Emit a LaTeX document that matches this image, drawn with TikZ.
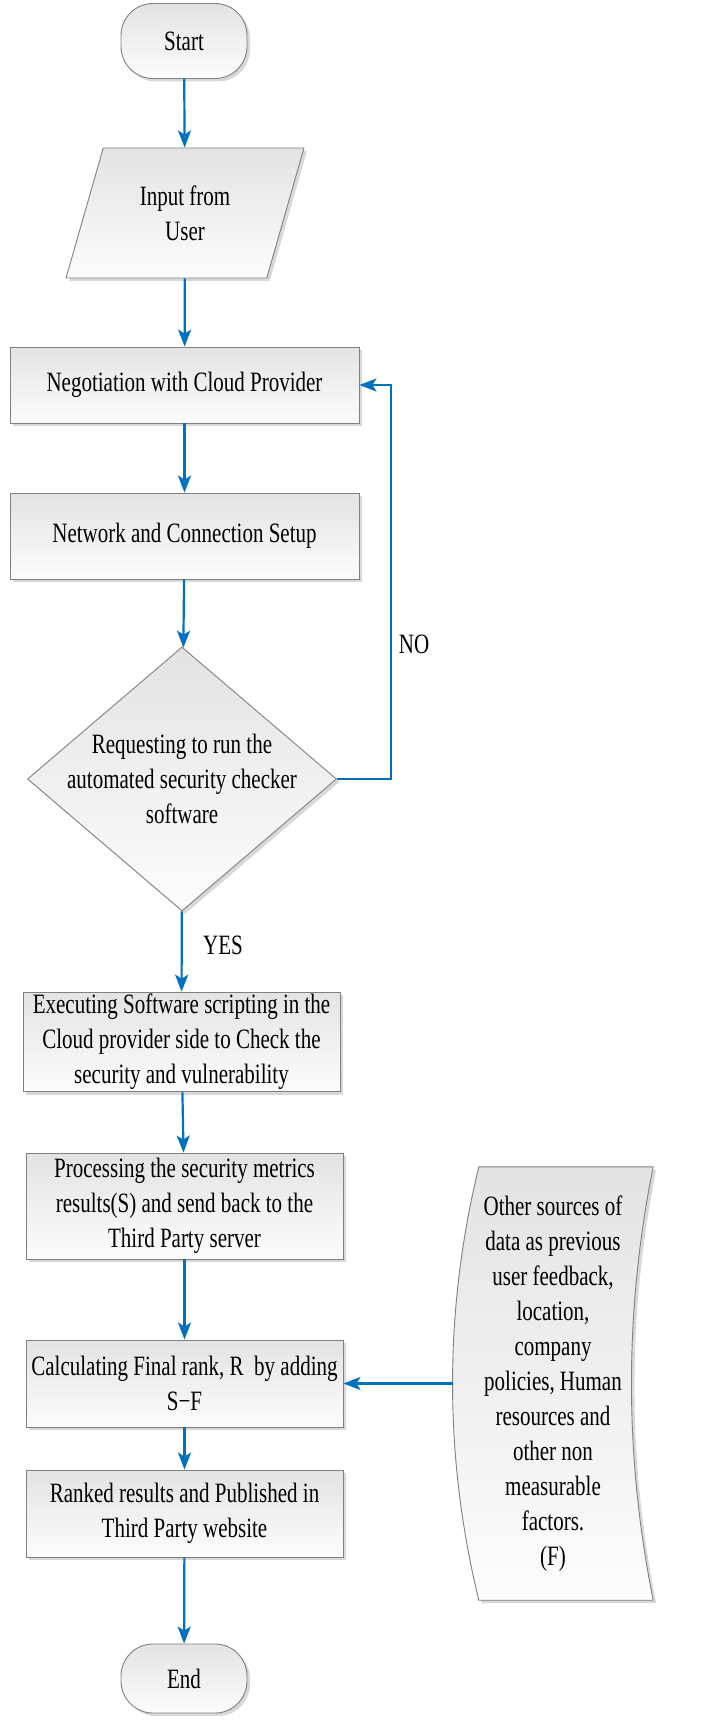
\documentclass[tikz,border=0pt]{standalone}
\usepackage{fontspec}
\setmainfont{Liberation Serif}[FakeStretch=0.75]
\usetikzlibrary{shapes.geometric,arrows.meta,shadows}
\definecolor{flowblue}{RGB}{0,112,192}
\definecolor{edgegray}{RGB}{128,128,128}
\tikzset{base/.style={draw=edgegray, line width=0.9pt, top color=black!11, bottom color=black!1, drop shadow={shadow xshift=3pt, shadow yshift=-3pt, fill=black!22, opacity=0.7}, font=\fontsize{28}{35}\selectfont, align=center, inner sep=2pt}}
\tikzset{term/.style={base, rectangle, rounded corners=32pt, minimum width=126pt}}
\tikzset{procbox/.style={base, rectangle, minimum width=317pt}}
\tikzset{io/.style={base, trapezium, trapezium left angle=70, trapezium right angle=110, trapezium stretches, minimum width=238pt, minimum height=130pt}}
\tikzset{dec/.style={base, diamond, minimum width=309pt, minimum height=264pt, inner sep=0pt}}
\tikzset{note/.style={font=\fontsize{28}{35}\selectfont, align=center}}
\tikzset{flow/.style={draw=flowblue, line width=2.2pt, -{Stealth[length=17pt, width=13pt, inset=4pt]}}}

\begin{document}
\begin{tikzpicture}[x=1pt, y=-1pt]
        \useasboundingbox (0,0) rectangle (704,1720);
        \node[term, minimum height=75pt] (start) at (184,41) {Start};
        \node[io] (input) at (185,213) {Input from\\User};
        \node[procbox, minimum width=349pt, minimum height=76pt] (nego) at (184.5,385) {Negotiation with Cloud Provider};
        \node[procbox, minimum width=349pt, minimum height=86pt] (net) at (184.5,536) {Network and Connection Setup};
        \node[dec] (req) at (182,779) {};
        \node[note] (reqtext) at (req) {Requesting to run the\\automated security checker\\software};
        \node[procbox, minimum height=98pt] (exec) at (181.5,1042) {Executing Software scripting in the\\Cloud provider side to Check the\\security and vulnerability};
        \node[procbox, minimum height=106pt] (proc) at (184.5,1206) {Processing the security metrics\\results(S) and send back to the\\Third Party server};
        \node[procbox, minimum height=87pt] (calc) at (184.5,1383.5) {Calculating Final rank, R\ \ by adding\\S−F};
        \node[procbox, minimum height=87pt] (rank) at (184.5,1513.5) {Ranked results and Published in\\Third Party website};
        \node[term, minimum height=69pt] (stop) at (184,1678.5) {End};

        % other sources of data
        \node[minimum width=200pt, minimum height=433pt, inner sep=0pt] (other) at (553,1383.5) {};
        \draw[base] ([xshift=26pt]other.north west) -- (other.north east)
            .. controls +(-29,144) and +(-29,-144) .. (other.south east)
            -- ([xshift=26pt]other.south west)
            .. controls +(-35,-144) and +(-35,144) .. ([xshift=26pt]other.north west) -- cycle;
        \node[note] (othertext) at (553,1384) {Other sources of\\data as previous\\user feedback,\\location,\\company\\policies, Human\\resources and\\other non\\measurable\\factors.\\(F)};

        \draw[flow] (start) -- (input);
        \draw[flow] (input) -- (nego);
        \draw[flow] (nego) -- (net);
        \draw[flow] (net) -- (req);
        \draw[flow] (req) -- (exec);
        \draw[flow] (exec) -- (proc);
        \draw[flow] (proc) -- (calc);
        \draw[flow] (calc) -- (rank);
        \draw[flow] (rank) -- (stop);
        \draw[flow] (req.east) -- ++(54,0) |- (nego.east);
        \draw[flow] (other.west) -- (calc.east);

        \node[note] (nolabel) at (414,644) {NO};
        \node[note] (yeslabel) at (223,945) {YES};
\end{tikzpicture}
\end{document}
